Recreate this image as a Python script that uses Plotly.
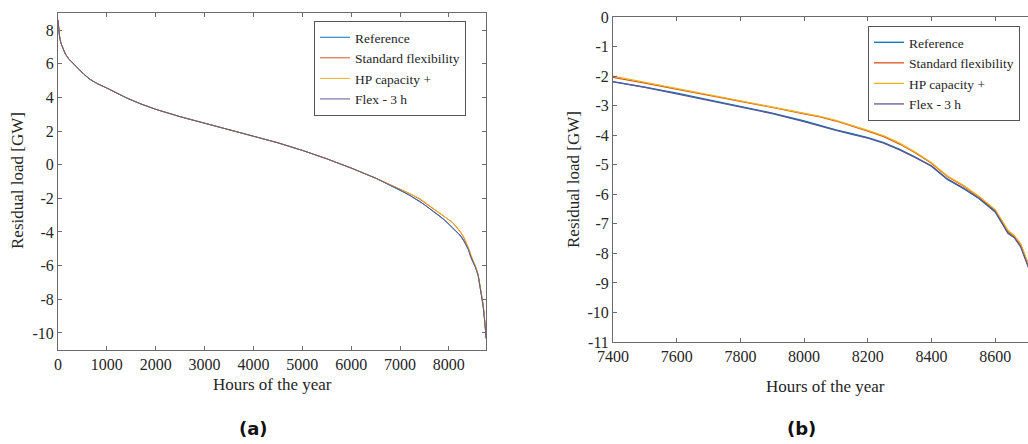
import plotly.graph_objects as go

# ---------------- data ----------------
hours = [0, 10, 30, 60, 100, 150, 220, 313, 420, 530, 654, 800, 1000, 1200, 1400, 1677,
         1850, 2000, 2500, 3000, 3500, 3722, 4000, 4500, 5000, 5500, 6000, 6500,
         7000, 7200, 7400, 7500, 7600, 7700, 7800, 7900, 8000, 8050, 8100, 8150,
         8200, 8250, 8300, 8350, 8400, 8450, 8500, 8550, 8600, 8640, 8660, 8680,
         8700, 8720, 8740, 8750, 8760]

# common part (0 .. 6500 h): all scenarios coincide
common_head = [8.6, 8.15, 7.65, 7.22, 6.88, 6.58, 6.28, 6.0, 5.68, 5.37, 5.07, 4.82, 4.55, 4.25,
               3.97, 3.63, 3.44, 3.29, 2.85, 2.45, 2.08, 1.9, 1.69, 1.3, 0.85, 0.35, -0.2, -0.8]

reference_tail = [-1.5, -1.82, -2.17, -2.37, -2.58, -2.8, -3.02, -3.25, -3.52, -3.68, -3.82, -3.95,
                  -4.08, -4.25, -4.48, -4.75, -5.05, -5.5, -5.8, -6.15, -6.6, -7.3, -7.45, -7.75,
                  -8.35, -8.9, -9.4, -9.8, -10.3]
standard_tail = [-1.45, -1.72, -2.04, -2.24, -2.44, -2.66, -2.86, -3.06, -3.28, -3.38, -3.52, -3.68,
                 -3.86, -4.05, -4.3, -4.6, -4.95, -5.4, -5.72, -6.1, -6.55, -7.25, -7.42, -7.7,
                 -8.3, -8.85, -9.35, -9.75, -10.2]
hp_tail = [-1.44, -1.7, -2.0, -2.21, -2.42, -2.63, -2.84, -3.03, -3.25, -3.36, -3.5, -3.66,
           -3.84, -4.02, -4.27, -4.58, -4.93, -5.38, -5.7, -6.08, -6.52, -7.22, -7.4, -7.68,
           -8.28, -8.82, -9.33, -9.72, -10.15]
flex3h_tail = [-1.5, -1.83, -2.18, -2.38, -2.6, -2.82, -3.04, -3.27, -3.54, -3.7, -3.84, -3.97,
               -4.1, -4.27, -4.5, -4.76, -5.04, -5.48, -5.79, -6.14, -6.58, -7.32, -7.47, -7.78,
               -8.38, -8.92, -9.42, -9.85, -10.35]

series_names = ["Reference", "Standard flexibility", "HP capacity +", "Flex - 3 h"]
series_values = [common_head + reference_tail,
                 common_head + standard_tail,
                 common_head + hp_tail,
                 common_head + flex3h_tail]
series_colors = ["#0072BD", "#D95319", "#EDB120", "#5E5894"]

xticks_a = [0, 1000, 2000, 3000, 4000, 5000, 6000, 7000, 8000]
yticks_a = [-10, -8, -6, -4, -2, 0, 2, 4, 6, 8]
xticks_b = [7400, 7600, 7800, 8000, 8200, 8400, 8600]
yticks_b = [0, -1, -2, -3, -4, -5, -6, -7, -8, -9, -10, -11]

# ---------------- figure ----------------
W, H = 1028, 444
SERIF = "Liberation Serif"
AX = "#6b6b6b"
TXT = "#262626"

fig = go.Figure()
for name, vals, col in zip(series_names, series_values, series_colors):
    fig.add_trace(go.Scatter(x=hours, y=vals, mode="lines", name=name,
                             line=dict(color=col, width=1),
                             xaxis="x", yaxis="y", legend="legend"))
for name, vals, col in zip(series_names, series_values, series_colors):
    fig.add_trace(go.Scatter(x=hours, y=vals, mode="lines", name=name,
                             line=dict(color=col, width=1.3),
                             xaxis="x2", yaxis="y2", legend="legend2"))

def px_x(p):
    return p / W

def px_y(p):
    return 1 - p / H

axis_common = dict(showline=True, linecolor=AX, linewidth=1, ticks="inside",
                   ticklen=4, tickcolor=AX, showgrid=False, zeroline=False,
                   automargin=False,
                   tickfont=dict(family=SERIF, size=16, color=TXT))

def labels(vals):
    return [str(v) for v in vals]

legend_common = dict(xanchor="left", yanchor="top", bgcolor="white",
                     bordercolor="#555", borderwidth=1,
                     font=dict(family=SERIF, size=13.5, color=TXT),
                     tracegroupgap=0, itemwidth=30)

fig.update_layout(
    width=W, height=H,
    margin=dict(l=0, r=0, t=0, b=0, autoexpand=False),
    paper_bgcolor="white", plot_bgcolor="white",
    xaxis=dict(domain=[px_x(58), px_x(486)], range=[0, 8760], tickvals=xticks_a,
               ticktext=labels(xticks_a), mirror="ticks", anchor="y", **axis_common),
    yaxis=dict(domain=[px_y(349.8), px_y(13.2)], range=[-11, 9], tickvals=yticks_a,
               ticktext=labels(yticks_a), mirror="ticks", anchor="x", **axis_common),
    xaxis2=dict(domain=[px_x(613), 1.0], range=[7400, 8703], tickvals=xticks_b,
                ticktext=labels(xticks_b), mirror="ticks", anchor="y2", **axis_common),
    yaxis2=dict(domain=[px_y(342), px_y(17)], range=[-11, 0], tickvals=yticks_b,
                ticktext=labels(yticks_b), mirror=False, anchor="x2", **axis_common),
    legend=dict(x=px_x(314), y=px_y(21), **legend_common),
    legend2=dict(x=px_x(868), y=px_y(26), **legend_common),
    showlegend=True,
)

annotations = [
    dict(text="Residual load [GW]", x=px_x(18), y=px_y(181), textangle=-90,
         font=dict(family=SERIF, size=17, color=TXT)),
    dict(text="Residual load [GW]", x=px_x(573), y=px_y(180), textangle=-90,
         font=dict(family=SERIF, size=17, color=TXT)),
    dict(text="Hours of the year", x=px_x(272), y=px_y(384),
         font=dict(family=SERIF, size=17, color=TXT)),
    dict(text="Hours of the year", x=px_x(825), y=px_y(386),
         font=dict(family=SERIF, size=17, color=TXT)),
    dict(text="<b>(a)</b>", x=px_x(253), y=px_y(428),
         font=dict(family="DejaVu Sans", size=18, color="#111")),
    dict(text="<b>(b)</b>", x=px_x(801), y=px_y(428),
         font=dict(family="DejaVu Sans", size=18, color="#111")),
]
for a in annotations:
    a.update(xref="paper", yref="paper", showarrow=False, xanchor="center", yanchor="middle")
fig.update_layout(annotations=annotations)

fig.write_html("out.html", config={"displayModeBar": False},
               post_script="document.body.style.margin='0px';")
